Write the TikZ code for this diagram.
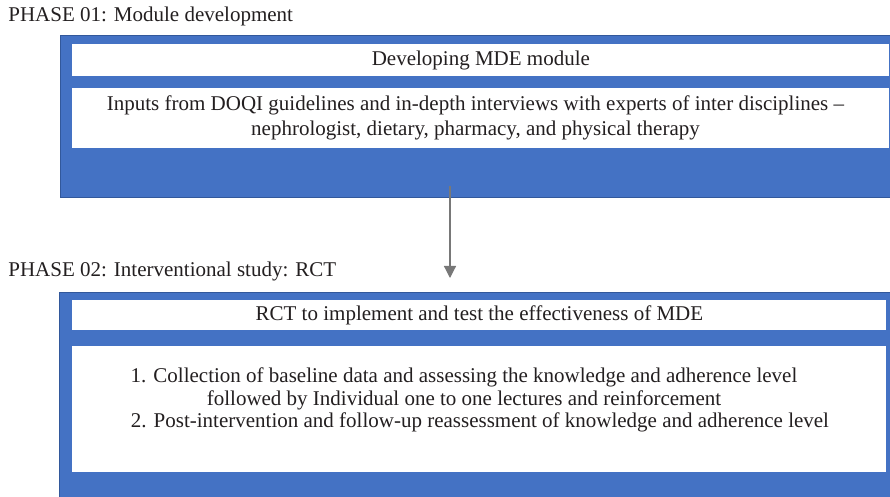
\documentclass[tikz,border=0pt]{standalone}
\usepackage{fontspec}
\setmainfont{Liberation Serif}
\usetikzlibrary{arrows.meta}
\definecolor{phaseblue}{RGB}{68,114,196}
\definecolor{phaseedge}{RGB}{50,88,155}
\definecolor{arrowgray}{RGB}{120,120,120}
\definecolor{textgray}{RGB}{35,31,32}

\begin{document}
\begin{tikzpicture}[x=0.5pt, y=-0.5pt, font=\fontsize{10.5}{12.5}\selectfont, text=textgray]
            \tikzstyle{phase box} = [fill=phaseblue, draw=phaseedge, line width=0.4pt, anchor=north west, inner sep=0pt]
            \tikzstyle{inner box} = [fill=white, anchor=north west, inner sep=0pt, align=center]
            \tikzstyle{phase label} = [anchor=base west, inner sep=0pt]
            \useasboundingbox (0, 0) rectangle (890, 497);
            % phase 01
            \node[phase label] (label1) at (8, 22) {PHASE 01: Module development};
            \node[phase box, minimum width=415pt, minimum height=81pt] (phase1) at (60, 35) {};
            \node[inner box, minimum width=408.5pt, minimum height=16pt] (develop) at (72, 44) {Developing MDE module};
            \node[inner box, minimum width=408.5pt, minimum height=30pt] (inputs) at (72, 88) {};
            \node[align=center] (inputs text) at (475.5, 118)
                {Inputs from DOQI guidelines and in-depth interviews with experts of inter disciplines --\\
                 nephrologist, dietary, pharmacy, and physical therapy};
            % phase 02
            \node[phase label] (label2) at (8, 277) {PHASE 02: Interventional study: RCT};
            \node[phase box, minimum width=415.5pt, minimum height=102.5pt] (phase2) at (59, 292) {};
            \node[inner box, minimum width=407pt, minimum height=15pt] (rct) at (72, 300) {RCT to implement and test the effectiveness of MDE};
            \node[inner box, minimum width=407pt, minimum height=63pt] (steps) at (72, 346) {};
            \node[align=center, font=\fontsize{10.5}{11.3}\selectfont] (step1) at (464, 389)
                {1. Collection of baseline data and assessing the knowledge and adherence level\\
                 followed by Individual one to one lectures and reinforcement};
            \node[anchor=base] (step2) at (480, 428)
                {2. Post-intervention and follow-up reassessment of knowledge and adherence level};
            % arrow between the phases
            \coordinate (arrow start) at (450, 186);
            \coordinate (arrow end) at (450, 278);
            \draw[arrowgray, line width=0.6pt, -{Triangle[width=6pt, length=6pt]}] (arrow start) -- (arrow end);
        \end{tikzpicture}
\end{document}
